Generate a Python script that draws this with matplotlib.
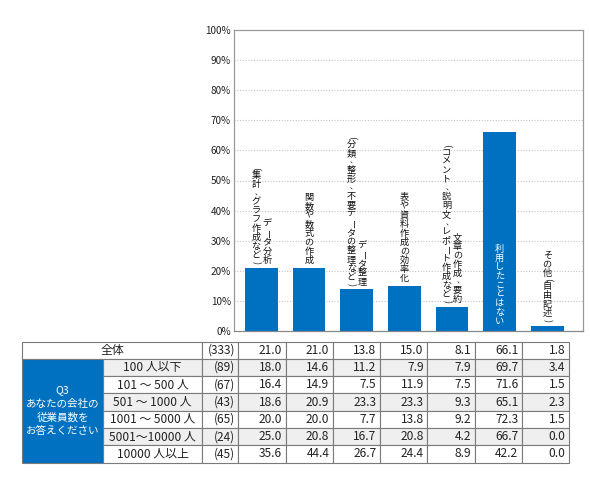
import matplotlib
matplotlib.use("Agg")
import matplotlib.pyplot as plt
from matplotlib.patches import Rectangle

plt.rcParams['font.family'] = ['Noto Sans CJK JP', 'DejaVu Sans']

# ---------------- data ----------------
categories = [
    "データ分析\n（集計、グラフ作成など）",
    "関数や数式の作成",
    "データ整理\n（分類、整形、不要データの整理など）",
    "表や資料作成の効率化",
    "文章の作成、要約\n（コメント、説明文、レポート作成など）",
    "利用したことはない",
    "その他（自由記述）",
]
row_labels = ["全体", "100 人以下", "101 ～ 500 人", "501 ～ 1000 人",
              "1001 ～ 5000 人", "5001～10000 人", "10000 人以上"]
row_n = [333, 89, 67, 43, 65, 24, 45]
row_all = [21.0, 21.0, 13.8, 15.0, 8.1, 66.1, 1.8]
row_100 = [18.0, 14.6, 11.2, 7.9, 7.9, 69.7, 3.4]
row_500 = [16.4, 14.9, 7.5, 11.9, 7.5, 71.6, 1.5]
row_1000 = [18.6, 20.9, 23.3, 23.3, 9.3, 65.1, 2.3]
row_5000 = [20.0, 20.0, 7.7, 13.8, 9.2, 72.3, 1.5]
row_10000 = [25.0, 20.8, 16.7, 20.8, 4.2, 66.7, 0.0]
row_over = [35.6, 44.4, 26.7, 24.4, 8.9, 42.2, 0.0]
table_rows = [row_all, row_100, row_500, row_1000, row_5000, row_10000, row_over]
group_label = ["Q3", "あなたの会社の", "従業員数を", "お答えください"]
yticks = list(range(0, 101, 10))

BLUE = '#0070C0'
W, H = 590, 491

fig = plt.figure(figsize=(W / 100, H / 100), dpi=100)

# ---------------- chart ----------------
ax_l, ax_r, ax_t, ax_b = 234.3, 582.7, 30.0, 331.0
ax = fig.add_axes([ax_l / W, (H - ax_b) / H, (ax_r - ax_l) / W, (ax_b - ax_t) / H])
x = list(range(len(categories)))
ax.bar(x, row_all, width=0.687, color=BLUE, zorder=3)
ax.set_xlim(-0.569, 6.745)
ax.set_ylim(0, 100)
ax.set_yticks(yticks)
ax.set_yticklabels([f"{v}%" for v in yticks], fontsize=7.2, color='#222222')
ax.set_xticks([])
ax.tick_params(axis='y', length=0, pad=2.5)
for v in yticks[1:-1]:
    ax.axhline(v, color='#c4c4c4', linewidth=0.8, linestyle=(0, (1, 1.5)), zorder=1)
for s in ax.spines.values():
    s.set_color('#999999')
    s.set_linewidth(0.9)
ax.spines['bottom'].set_color('#888888')

PX = 0.72  # points per pixel
VFS = 6.6


def vcolumn(xd, yd, text, dx, base, color):
    pos = base
    for ch in reversed(text):
        rot = 0
        glyph = ch
        ox = 0
        fs = VFS
        if ch in '（(':
            h, rot, glyph = 4.5, -90, '('
        elif ch in '）)':
            h, rot, glyph = 4.5, -90, ')'
        elif ch == '、':
            h, ox, fs = 8.0, 2.5, 5.3
        elif ch == 'ー':
            h, rot = 9.0, -90
        else:
            h = 9.0
        cy = pos + h / 2
        ax.annotate(glyph, xy=(xd, yd), xycoords='data',
                    xytext=((dx + ox) * PX, cy * PX), textcoords='offset points',
                    ha='center', va='center', rotation=rot, fontsize=fs,
                    color=color, annotation_clip=False, zorder=5)
        pos += h


for i, (lab, val) in enumerate(zip(categories, row_all)):
    lines = lab.split("\n")
    if i == 5:
        yd, base, color = 0, 5.5, 'white'
    else:
        yd, base, color = val, 3.0, '#111111'
    if len(lines) == 1:
        vcolumn(i, yd, lines[0], 0, base, color)
    else:
        vcolumn(i, yd, lines[0], 5.5, base, color)
        vcolumn(i, yd, lines[1], -5.5, base, color)

# ---------------- table ----------------
tax = fig.add_axes([0, 0, 1, 1])
tax.set_xlim(0, W)
tax.set_ylim(H, 0)
tax.axis('off')
tax.patch.set_visible(False)

t_left, t_q3, t_sub, t_n = 22.0, 103.3, 202.0, 238.3
col_w = (569.0 - t_n) / len(categories)
t_top, row_h = 341.5, 17.3
edge = '#7a7a7a'
lw = 0.8
fs = 8.6
GRAY = '#efefef'
TXT = '#222222'


def cell(x0, y0, w, h, fc, z=1):
    tax.add_patch(Rectangle((x0, y0), w, h, facecolor=fc, edgecolor=edge, linewidth=lw, zorder=z))


for r, (lab, n, vals) in enumerate(zip(row_labels, row_n, table_rows)):
    y0 = t_top + r * row_h
    yc = y0 + row_h / 2
    fc = GRAY if r in (1, 3, 5) else 'white'
    if r == 0:
        cell(t_left, y0, t_sub - t_left, row_h, 'white')
        tax.text((t_left + t_sub) / 2, yc, lab, ha='center', va='center', fontsize=fs, color=TXT, zorder=4)
    else:
        cell(t_q3, y0, t_sub - t_q3, row_h, fc)
        tax.text((t_q3 + t_sub) / 2, yc, lab, ha='center', va='center', fontsize=fs, color=TXT, zorder=4)
    cell(t_sub, y0, t_n - t_sub, row_h, fc)
    tax.text(t_n - 3, yc, f"({n})", ha='right', va='center', fontsize=fs, color=TXT, zorder=4)
    for c, v in enumerate(vals):
        cx0 = t_n + c * col_w
        cell(cx0, y0, col_w, row_h, fc)
        tax.text(cx0 + col_w - 3.5, yc, f"{v:.1f}", ha='right', va='center', fontsize=fs, color=TXT, zorder=4)

# group (Q3) cell
g_top = t_top + row_h
g_h = row_h * (len(row_labels) - 1)
cell(t_left, g_top, t_q3 - t_left, g_h, BLUE, z=2)
g_c = g_top + g_h / 2
line_gap = 13.8
for k, s in enumerate(group_label):
    yy = g_c + (k - (len(group_label) - 1) / 2) * line_gap
    tax.text((t_left + t_q3) / 2, yy, s, ha='center', va='center', fontsize=7.6, color='white', zorder=4)

fig.savefig("out.png", dpi=100)
